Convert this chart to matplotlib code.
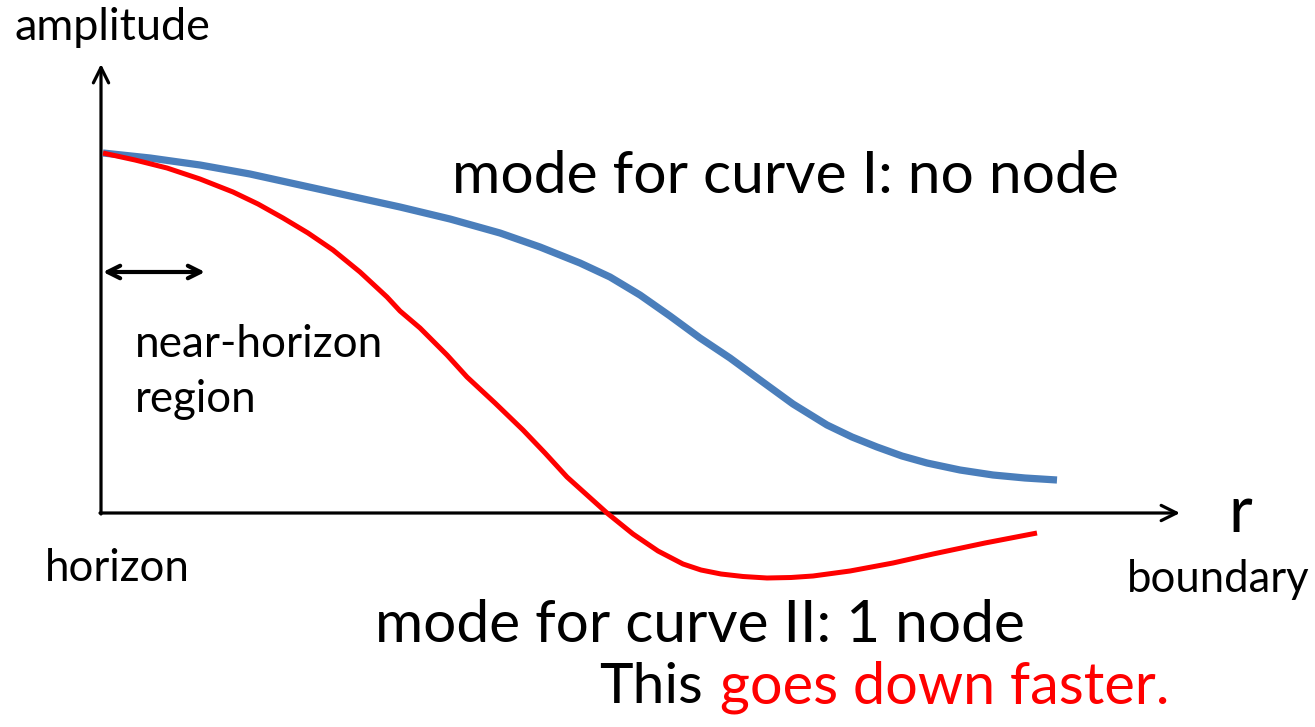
import matplotlib
matplotlib.use("Agg")
import matplotlib.pyplot as plt

W, H = 1315, 727
OX, OY = 101, 513  # axis origin in pixel space (layout only)

# ---- data: schematic curves (r, amplitude) ----
blue_r = [2, 49, 99, 149, 199, 249, 299, 349, 399, 439, 479, 509, 539, 569, 599,
          629, 659, 692, 726, 751, 776, 801, 826, 859, 892, 924, 956]
blue_a = [360, 355, 348, 339, 328, 317, 306, 294, 280, 266, 250, 236, 218, 197,
          175, 155, 133, 109, 88, 76, 66, 57, 50, 43, 38, 35, 33]
red_r = [2, 34, 66, 99, 132, 157, 182, 207, 232, 259, 286, 299, 319, 346, 366,
         394, 422, 444, 466, 486, 506, 532, 557, 582, 600, 620, 642, 666, 690,
         712, 749, 792, 832, 884, 936]
red_a = [360, 353, 345, 334, 321, 309, 295, 280, 263, 241, 216, 202, 185, 158,
         136, 110, 83, 60, 36, 18, 0, -21, -38, -51, -57, -61, -63.5, -65,
         -64.5, -63, -58, -50, -41, -30, -20]

# ---- text labels ----
labels = {
    "amplitude": "amplitude",
    "curve1": "mode for curve I: no node",
    "near": "near-horizon",
    "region": "region",
    "horizon": "horizon",
    "r": "r",
    "boundary": "boundary",
    "curve2": "mode for curve II: 1 node",
    "this": "This",
    "faster": "goes down faster.",
}

plt.rcParams['font.family'] = ['Lato', 'DejaVu Sans']

fig = plt.figure(figsize=(W / 100, H / 100), dpi=100)
ax = fig.add_axes([0, 0, 1, 1])
ax.set_xlim(-OX, W - OX)
ax.set_ylim(OY - H, OY)
ax.axis("off")

BLUE = "#4a7ebb"
RED = "#ff0000"

ax.plot(blue_r, blue_a, color=BLUE, lw=5.2, solid_capstyle="butt",
        solid_joinstyle="round", zorder=3)
ax.plot(red_r, red_a, color=RED, lw=3.6, solid_capstyle="butt",
        solid_joinstyle="round", zorder=4)

# axes arrows
ax.annotate("", xy=(0, OY - 64), xytext=(0, -1),
            arrowprops=dict(arrowstyle="->,head_length=1.1,head_width=0.55",
                            lw=2.3, color="black", shrinkA=0, shrinkB=0),
            zorder=2)
ax.annotate("", xy=(1180 - OX, 0), xytext=(-1, 0),
            arrowprops=dict(arrowstyle="->,head_length=1.1,head_width=0.55",
                            lw=2.3, color="black", shrinkA=0, shrinkB=0),
            zorder=2)
# near-horizon double arrow
ax.annotate("", xy=(205 - OX, OY - 272), xytext=(103 - OX, OY - 272),
            arrowprops=dict(arrowstyle="<->,head_length=0.9,head_width=0.45",
                            lw=3.0, color="black", shrinkA=0, shrinkB=0,
                            capstyle="round", joinstyle="round"),
            zorder=2)

fig.canvas.draw()
renderer = fig.canvas.get_renderer()


def fit_text(s, left, baseline, width, color="black"):
    t = ax.text(left - OX, OY - baseline, s, fontsize=20, color=color,
                ha="left", va="baseline")
    bb = t.get_window_extent(renderer)
    t.set_fontsize(20 * width / bb.width)
    return t


fit_text(labels["amplitude"], 15, 40, 197)
fit_text(labels["curve1"], 452, 193, 668)
fit_text(labels["near"], 135, 357, 248)
fit_text(labels["region"], 135, 412, 122)
fit_text(labels["horizon"], 45, 581, 145)
fit_text(labels["r"], 1228, 532, 24)
fit_text(labels["boundary"], 1127, 592, 183)
fit_text(labels["curve2"], 375, 642, 652)
fit_text(labels["this"], 599, 703, 104)
fit_text(labels["faster"], 720, 703, 450, color=RED)

fig.savefig("out.png", dpi=100)
